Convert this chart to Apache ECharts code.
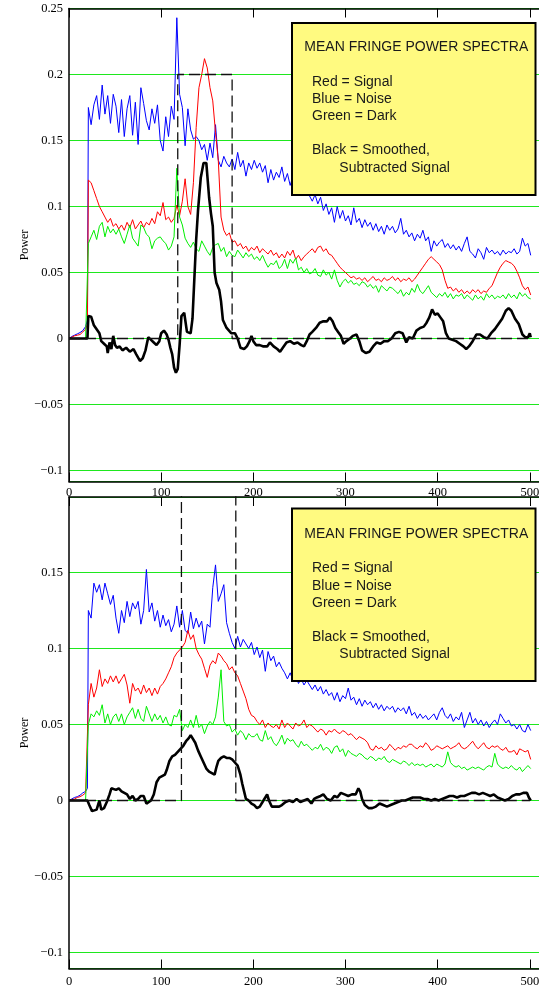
<!DOCTYPE html>
<html><head><meta charset="utf-8">
<script src="https://cdn.jsdelivr.net/npm/echarts@6/dist/echarts.min.js"></script>
<style>html,body{margin:0;padding:0;background:#fff}#c{width:539px;height:988px}</style>
</head><body><div id="c"></div>
<script>
// ---------- DATA (power values in thousandths) ----------
const xTickLabels = ['0','100','200','300','400','500'];
const yTickValues = [-0.1,-0.05,0,0.05,0.1,0.15,0.2,0.25];
const legendLines = ['MEAN FRINGE POWER SPECTRA','Red = Signal','Blue = Noise','Green = Dark','Black = Smoothed,','Subtracted Signal'];

// sample positions: low-frequency ramp, then channels every 3 units
const rampX = [0,3,6,9,12,15,18,20];
const chanX = [];
for (let x = 21; x <= 501; x += 3) chanX.push(x);

// ----- top panel -----
const topBlueRamp  = [0,1.5,2.5,3.5,4.5,6,9,14];
const topRedRamp   = [0,1,2,2.5,3,5,7,11];
const topGreenRamp = [0,0,0,0,0,0,0,0];
const topBlue = [
175,162,177,184,166,192,170,184,163,185,
176,156,181,153,174,184,154,179,147,190,
178,165,158,174,163,177,150,142,168,153,
176,166,243,185,175,146,174,158,151,153,
150,143,147,135,148,137,162,135,130,138,
133,130,136,128,141,130,135,123,133,128,
135,129,133,126,131,118,128,120,126,122,
130,119,125,116,123,118,121,113,119,115,
108,104,109,102,107,97,102,94,99,88,
100,91,97,89,93,86,99,88,91,84,
90,85,88,82,87,81,85,79,86,82,
85,80,83,91,79,82,77,80,74,79,
76,82,74,77,66,74,70,73,75,69,
72,68,71,67,70,66,72,77,66,64,
61,68,65,60,69,65,67,64,66,63,
67,64,66,65,68,64,66,76,70,72,
63];
const topRed = [
120,118,112,106,100,96,92,88,91,85,
87,83,86,82,88,84,90,83,86,89,
84,88,86,91,87,96,93,103,90,92,
88,91,101,93,104,121,100,94,118,160,
190,200,212,205,190,180,156,135,92,82,
78,80,73,74,70,72,68,70,66,69,
67,70,65,68,66,64,67,63,65,61,
64,61,66,63,67,60,63,59,62,64,
66,68,65,69,70,66,68,64,63,60,
57,54,52,50,48,46,47,45,46,44,
46,43,45,47,44,45,43,46,44,45,
47,44,46,43,45,44,46,43,45,48,
51,54,57,60,62,60,58,56,52,44,
38,39,36,38,35,37,34,36,34,37,
35,37,34,36,35,38,40,45,50,54,
57,59,58,57,55,51,46,40,37,39,
33];
const topGreen = [
72,77,82,75,85,88,77,85,80,83,
79,83,77,72,79,86,76,73,70,86,
84,79,77,68,74,76,77,74,72,67,
70,77,129,92,86,76,72,69,73,68,
66,74,70,66,63,69,71,72,66,69,
62,66,63,62,67,64,61,65,62,64,
60,62,59,63,58,54,57,56,59,53,
55,60,53,60,57,61,52,54,50,53,
49,50,53,48,47,52,48,50,45,52,
44,39,43,45,42,44,41,42,40,43,
42,39,41,38,40,35,40,38,36,39,
38,36,34,37,32,35,33,38,35,41,
36,34,37,40,35,33,31,34,32,35,
31,34,30,33,32,34,30,33,31,29,
33,30,32,29,34,31,33,30,32,31,
33,30,34,31,33,30,35,32,34,31,
30];
const topBlack = [[0,0],[20,0],[21,17],[24,16.5],[27,10],[30,7],[33,4],[35,-2],[38,-4],[41,-6],[42,-11],[44,-3],[46,-8],[48,2],[50,-5],[52,-7],[55,-6],[58,-9],[62,-7],[66,-10],[70,-8],[73,-12],[77,-17],[80,-15],[83,-9],[86,1],[89,-1],[92,-3],[95,-5],[98,-2],[100,4],[103,6],[106,3],[108,-1],[110,-7],[112,-12],[114,-22],[116,-26],[118,-23],[120,-5],[122,17],[125,19.5],[127,18],[128,5],[132,4],[134,15],[136,45],[138,75],[140,97],[143,122],[146,133],[149,133],[152,107],[154,95],[156,85],[158,50],[160,42],[163,37],[165,28],[167,14],[171,8],[176,4],[180,4],[183,0],[186,-7],[190,-8],[193,-6],[196,-2],[198,2],[200,-2],[203,-5],[207,-5],[211,-6],[215,-6],[218,-3],[222,-6],[226,-8],[229,-10],[232,-7],[236,-3],[240,-2],[244,-4],[248,-3],[252,-5],[255,-6],[258,-2],[261,3],[264,5],[268,8],[272,12],[276,13],[280,13],[283,16],[286,13],[289,8],[292,5],[295,2],[298,-4],[301,-2],[305,0],[308,2],[312,3],[315,-2],[318,-9],[322,-11],[326,-10],[330,-6],[334,-3],[338,-4],[342,-2],[346,-2],[350,0],[354,4],[358,5],[362,4],[366,-3],[369,1],[373,0],[377,6],[381,8],[385,9],[388,12],[391,16],[394,22],[397,18],[400,19],[403,16],[406,13],[409,4],[412,0],[416,-1],[420,-2],[424,-4],[428,-6],[431,-8],[434,-6],[438,-2],[442,3],[446,3],[450,1],[454,0],[458,4],[462,7],[466,11],[470,15],[474,21],[477,23],[480,21],[484,15],[488,11],[492,3],[495,1],[498,1],[500,4],[501,1]];
const topWindow = [[0,0],[118,0],[118,200],[177,200],[177,0],[500,0]];

// ----- bottom panel -----
const botBlueRamp  = [0,1,2,2.5,3.5,5,6,8];
const botRedRamp   = [0,0.5,1,2,2.5,3.5,5,6];
const botGreenRamp = [0,0,0,0,0,0,0,0];
const botBlue = [
125,120,143,137,142,132,143,136,129,135,
120,110,125,117,131,121,130,126,131,116,
125,152,124,130,118,125,114,122,115,119,
111,116,128,114,125,112,110,124,113,120,
114,118,103,116,114,140,155,131,136,142,
117,110,104,100,108,101,106,103,100,104,
96,101,94,99,85,98,92,95,88,91,
87,84,80,84,79,82,77,80,76,79,
76,73,76,72,75,70,73,69,71,66,
71,65,69,67,74,66,68,63,67,62,
66,63,65,61,64,60,63,59,62,60,
62,58,61,59,61,57,62,56,58,54,
57,54,56,53,55,57,53,58,61,56,
54,57,52,55,53,58,48,53,58,51,
54,50,53,49,52,48,51,53,50,57,
54,51,53,49,50,47,50,46,45,50,
46];
const botRed = [
63,77,68,74,86,75,80,77,82,78,
82,77,80,83,76,64,77,72,74,70,
76,71,74,69,74,70,75,77,80,84,
88,94,97,99,101,104,112,106,109,100,
96,93,87,81,89,92,90,97,95,92,
90,86,88,84,82,77,72,67,60,56,
55,52,50,53,48,51,49,48,50,47,
53,48,51,49,47,51,49,50,53,48,
50,49,47,45,47,46,43,46,45,47,
45,44,46,45,43,44,42,40,42,41,
40,38,34,33,36,34,35,33,34,37,
35,33,35,34,36,35,37,37,35,34,
36,35,38,36,33,34,36,35,34,35,
36,34,35,36,38,35,34,35,37,39,
36,34,36,38,35,34,36,35,36,34,
33,35,32,32,33,30,34,33,32,33,
27];
const botGreen = [
50,57,55,59,56,63,51,57,50,55,
57,52,57,50,55,58,61,54,60,54,
52,62,57,52,57,53,56,51,55,50,
49,56,55,60,46,50,48,53,48,56,
48,50,44,49,52,50,55,68,86,52,
49,50,45,47,43,46,44,40,44,42,
42,44,40,39,46,40,42,38,36,39,
43,37,41,39,40,37,35,39,36,37,
35,33,35,34,37,33,35,34,31,35,
36,32,34,29,33,31,30,29,31,30,
28,27,29,28,26,28,27,29,26,25,
27,26,25,24,26,25,23,25,23,24,
23,24,22,23,24,22,24,23,22,24,
32,25,23,22,23,21,22,20,21,22,
21,22,21,20,22,23,22,31,24,22,
21,22,21,23,21,20,22,19,21,23,
21];
const botBlack = [[0,0],[20,0],[22,-3],[25,-7],[27,-8],[30,-6],[33,0],[35,-6],[38,-5],[41,-1],[44,4],[46,8],[48,9],[51,7],[54,8],[57,6],[60,5],[63,4],[66,1],[69,3],[72,0],[75,1],[78,3],[81,3],[84,-2],[86,-2],[89,0],[92,4],[95,12],[98,15],[101,16],[104,17],[106,20],[109,26],[112,29],[115,30],[118,32],[121,34],[124,36],[127,39],[130,41],[132,43],[134,42],[137,38],[140,33],[143,29],[146,25],[149,21],[152,19],[155,18],[158,17],[160,22],[162,26],[165,28],[168,29],[171,28],[174,28],[177,27],[180,25],[183,23],[186,17],[188,11],[190,6],[192,1],[195,0],[198,-2],[201,-3],[204,-5],[207,-4],[210,-1],[213,2],[215,4],[217,0],[220,-4],[224,-4],[228,-4],[231,-3],[235,-1],[239,0],[243,-1],[247,1],[251,-1],[255,0],[259,1],[263,-2],[266,1],[269,2],[273,3],[276,4],[280,1],[284,0],[288,3],[291,2],[295,5],[299,4],[303,3],[307,4],[311,4],[314,8],[316,6],[318,1],[321,-3],[325,-5],[329,-5],[333,-4],[337,-2],[341,-3],[345,-4],[349,-3],[353,-2],[357,-1],[361,0],[365,0],[369,1],[373,2],[377,2],[381,2],[385,1],[389,1],[393,0],[397,1],[401,0],[405,1],[409,2],[413,3],[417,3],[421,2],[425,3],[429,3],[433,4],[437,5],[441,5],[445,4],[449,5],[453,4],[457,3],[461,4],[465,2],[469,1],[473,0],[477,1],[481,3],[485,4],[489,4],[493,5],[497,5],[499,2],[501,0]];
const botWindow = [[0,0],[122,0],[122,230],[181,230],[181,0],[500,0]];

// ---------- CHART ----------
const SERIF = '"Liberation Serif","Times New Roman",serif';
const SANS = '"Liberation Sans",Arial,sans-serif';
const BLUE = '#0000ff', RED = '#ff0000', GREEN = '#00ee00', GRIDGREEN = '#1ee81e';

function seq(xs, vals) { return xs.map((x, i) => [x, vals[i] / 1000]); }
function pairs(p) { return p.map(d => [d[0], d[1] / 1000]); }
const allX = rampX.concat(chanX);

function fmtX(v) { const s = String(Math.round(v)); return xTickLabels.indexOf(s) >= 0 && Math.abs(v - Math.round(v)) < 1e-6 ? s : ''; }
function fmtY(v) {
  const r = Math.round(v * 100) / 100;
  if (!yTickValues.some(t => Math.abs(t - v) < 1e-6)) return '';
  if (r === 0) return '0';
  const s = String(Math.abs(r));
  return r < 0 ? '\u2212' + s : s;
}

function xAx(gridIndex, pos, margin) {
  return {
    type: 'value', gridIndex, position: pos, min: 0, max: 510, interval: 100,
    axisLine: { show: true, onZero: false, lineStyle: { color: '#000', width: 1.5 } },
    axisTick: { show: true, inside: true, length: 9, lineStyle: { color: '#000', width: 1 } },
    axisLabel: { show: pos === 'bottom', margin, fontFamily: SERIF, fontSize: 12.5, color: '#000', formatter: fmtX },
    splitLine: { show: false }
  };
}
// axis extents chosen so that every 0.05 grid line falls on a pixel centre
const TOP_PX = 1320, BOT_PX = 1520;           // pixels per power unit
const topGrid = { top: 8.5, zero: 338.5, bottom: 481.5 };
const botGrid = { top: 497, zero: 800.5, bottom: 968.5 };
function yAx(gridIndex, g, pxPerUnit) {
  return {
    type: 'value', gridIndex,
    min: -(g.bottom - g.zero) / pxPerUnit, max: (g.zero - g.top) / pxPerUnit,
    minInterval: 0.05, maxInterval: 0.05, splitNumber: 7,
    axisLine: { show: true, onZero: false, lineStyle: { color: '#000', width: 1.5 } },
    axisTick: { show: false },
    axisLabel: { margin: 6, fontFamily: SERIF, fontSize: 12.5, color: '#000', formatter: fmtY },
    splitLine: { show: true, lineStyle: { color: GRIDGREEN, width: 1 } }
  };
}
function line(xi, yi, data, color, width, extra) {
  return Object.assign({
    type: 'line', xAxisIndex: xi, yAxisIndex: yi, data, symbol: 'none', showSymbol: false,
    silent: true, animation: false, lineStyle: { color, width }, itemStyle: { color }
  }, extra || {});
}
function panelSeries(xi, yi, b, bR, r, rR, g, gR, k, w) {
  return [
    line(xi, yi, seq(allX, bR.concat(b)), BLUE, 1),
    line(xi, yi, seq(allX, rR.concat(r)), RED, 1),
    line(xi, yi, seq(allX, gR.concat(g)), GREEN, 1),
    line(xi, yi, pairs(k), '#000', 2.6, { z: 3 }),
    line(xi, yi, pairs(w), '#111', 1.3, { z: 4, lineStyle: { color: '#111', width: 1.3, type: [11, 5] } })
  ];
}
function legend(boxY, boxH, ys) {
  const xs = [304.3, 312, 312, 312, 312, 339.3];
  const els = [{ type: 'rect', z: 100, shape: { x: 292, y: boxY, width: 243.5, height: boxH },
    style: { fill: '#fffa80', stroke: '#000', lineWidth: 2 } }];
  legendLines.forEach((t, i) => els.push({ type: 'text', z: 101, x: xs[i], y: ys[i],
    style: { text: t, font: '14px ' + SANS, fill: '#1a1a1a', textAlign: 'left', textVerticalAlign: 'middle', align: 'left', verticalAlign: 'middle' } }));
  return els;
}
function yName(y) {
  return { type: 'text', z: 100, x: 25, y, rotation: Math.PI / 2,
    style: { text: 'Power', font: '12px ' + SERIF, fill: '#000', textAlign: 'center', textVerticalAlign: 'middle', align: 'center', verticalAlign: 'middle' } };
}

const chart = echarts.init(document.getElementById('c'), null, { renderer: 'canvas' });
chart.setOption({
  animation: false,
  backgroundColor: '#fff',
  grid: [
    { left: 69, right: 0, top: topGrid.top, height: topGrid.bottom - topGrid.top, containLabel: false, outerBoundsMode: 'none' },
    { left: 69, right: 0, top: botGrid.top, height: botGrid.bottom - botGrid.top, containLabel: false, outerBoundsMode: 'none' }
  ],
  xAxis: [xAx(0, 'bottom', 5), xAx(0, 'top', 0), xAx(1, 'bottom', 7), xAx(1, 'top', 0)],
  yAxis: [yAx(0, topGrid, TOP_PX), yAx(1, botGrid, BOT_PX)],
  series: [].concat(
    panelSeries(0, 0, topBlue, topBlueRamp, topRed, topRedRamp, topGreen, topGreenRamp, topBlack, topWindow),
    panelSeries(2, 1, botBlue, botBlueRamp, botRed, botRedRamp, botGreen, botGreenRamp, botBlack, botWindow)
  ),
  graphic: { elements: [].concat(
    legend(23, 172, [47, 81.8, 99.5, 116.6, 150.3, 168]),
    legend(508.5, 172.5, [534.3, 568.5, 586.2, 603.2, 637.5, 654.5]),
    [yName(245), yName(733)]
  ) }
});
</script></body></html>
